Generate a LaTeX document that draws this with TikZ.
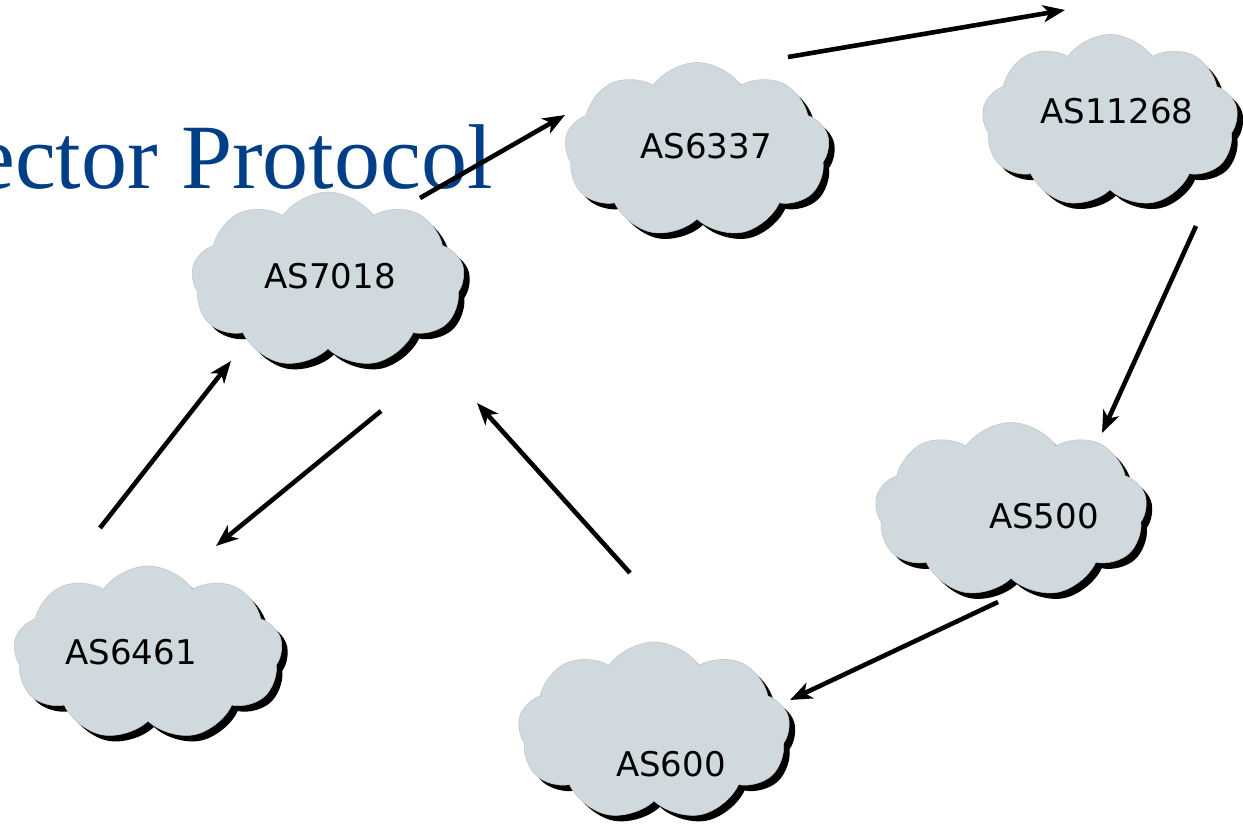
\documentclass[tikz,border=0pt]{standalone}
\usepackage{fontspec}
\setmainfont{Liberation Serif}
\newfontfamily\labelfont{DejaVu Sans}
\usetikzlibrary{shapes.symbols,shadows,arrows.meta}
\definecolor{cloudfill}{RGB}{208,218,222}
\definecolor{titleblue}{RGB}{0,63,135}
\tikzset{
  ascloud/.style={cloud, cloud puffs=9, cloud puff arc=110, cloud ignores aspect,
    inner sep=0pt, fill=cloudfill, draw=gray!45, line width=0.6pt,
    drop shadow={shadow xshift=6pt, shadow yshift=-6pt, fill=black, opacity=1}},
  aslabel/.style={font=\labelfont\fontsize{34}{38}\selectfont, text=black, inner sep=0pt},
  link/.style={line width=4.6pt, -{Stealth[length=22pt,width=17pt,inset=6pt]}}
}
\begin{document}
\begin{tikzpicture}[x=1pt,y=-1pt]
\useasboundingbox (0,0) rectangle (1243,825);
\clip (0,0) rectangle (1243,825);
% title fragment
\node (title) [anchor=base east, inner sep=0pt, text=titleblue,
  font=\fontsize{92}{100}\selectfont] at (493,188) {ector Protocol};
% clouds
\node (c7018) [ascloud, minimum width=273pt, minimum height=176pt] at (328,280) {};
\node (c6337) [ascloud, minimum width=265pt, minimum height=175pt] at (697,150) {};
\node (c11268) [ascloud, minimum width=256pt, minimum height=173pt] at (1110,121) {};
\node (c500) [ascloud, minimum width=272pt, minimum height=175pt] at (1011,510) {};
\node (c6461) [ascloud, minimum width=269pt, minimum height=174pt] at (148,653) {};
\node (c600) [ascloud, minimum width=272pt, minimum height=178pt] at (654,731) {};
% labels
\node (t7018) [aslabel] at (330,276) {AS7018};
\node (t6337) [aslabel] at (706,146) {AS6337};
\node (t11268) [aslabel] at (1117,111) {AS11268};
\node (t500) [aslabel] at (1044,516) {AS500};
\node (t6461) [aslabel] at (131,652) {AS6461};
\node (t600) [aslabel] at (671,764) {AS600};
% arrow end points
\coordinate (a1s) at (100,528);  \coordinate (a1e) at (231,361);
\coordinate (a2s) at (381,411);  \coordinate (a2e) at (216,546);
\coordinate (a3s) at (630,573);  \coordinate (a3e) at (477,403);
\coordinate (a4s) at (420,198);  \coordinate (a4e) at (565,115);
\coordinate (a5s) at (788,57);   \coordinate (a5e) at (1065,10);
\coordinate (a6s) at (1196,226); \coordinate (a6e) at (1102,433);
\coordinate (a7s) at (998,602);  \coordinate (a7e) at (790,700);
% arrows
\draw[link] (a1s) -- (a1e);
\draw[link] (a2s) -- (a2e);
\draw[link] (a3s) -- (a3e);
\draw[link] (a4s) -- (a4e);
\draw[link] (a5s) -- (a5e);
\draw[link] (a6s) -- (a6e);
\draw[link] (a7s) -- (a7e);
\end{tikzpicture}
\end{document}
